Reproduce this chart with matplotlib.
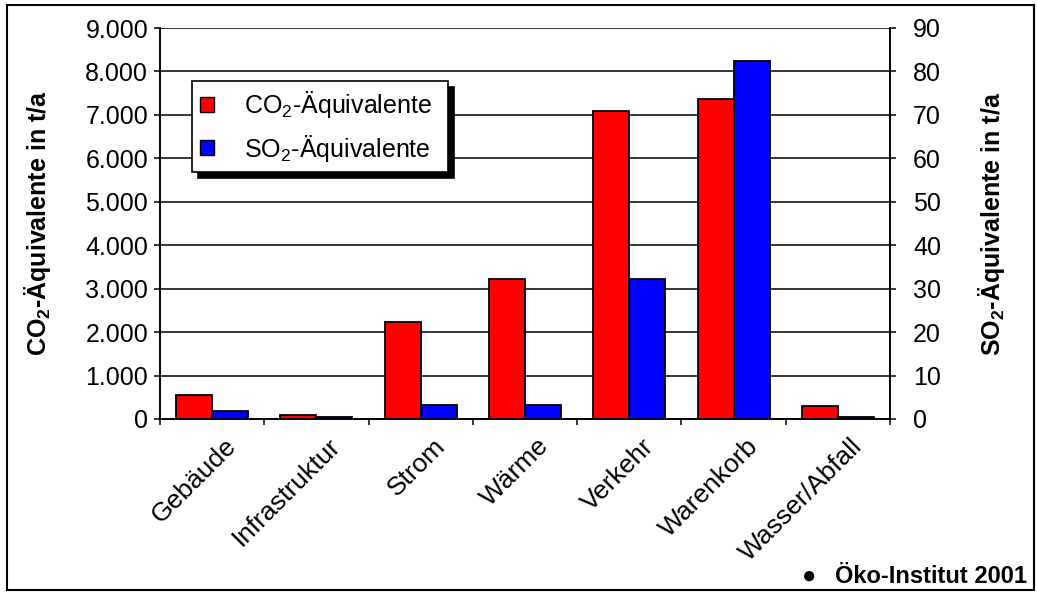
import numpy as np
import matplotlib
matplotlib.use("Agg")
import matplotlib.pyplot as plt
from matplotlib.ticker import FuncFormatter, MultipleLocator
from matplotlib.patches import Rectangle, Patch
from matplotlib.transforms import ScaledTranslation

plt.rcParams["font.family"] = ["Liberation Sans", "DejaVu Sans"]
plt.rcParams["mathtext.fontset"] = "custom"
plt.rcParams["mathtext.rm"] = "Liberation Sans"
plt.rcParams["mathtext.bf"] = "Liberation Sans:bold"

categories = ["Gebäude", "Infrastruktur", "Strom", "Wärme", "Verkehr", "Warenkorb", "Wasser/Abfall"]
co2 = [560, 90, 2240, 3230, 7100, 7360, 310]      # t/a, left axis
so2 = [1.8, 0.5, 3.2, 3.2, 32.3, 82.3, 0.5]       # t/a, right axis

FS = 18

fig = plt.figure(figsize=(10.37, 5.92), dpi=100)
ax = fig.add_axes([160/1037, 1-419/592, 730/1037, 391/592])
ax2 = ax.twinx()

x = np.arange(len(categories))
w = 0.345
ax.bar(x - w/2, co2, w, color="#ff0000", edgecolor="black", linewidth=1.3, zorder=3)
ax2.bar(x + w/2, so2, w, color="#0000ff", edgecolor="black", linewidth=1.3, zorder=3)

ax.set_xlim(-0.5, len(categories) - 0.5)
ax.set_ylim(0, 9000)
ax2.set_ylim(0, 90)
ax.yaxis.set_major_locator(MultipleLocator(1000))
ax2.yaxis.set_major_locator(MultipleLocator(10))
ax.yaxis.set_major_formatter(FuncFormatter(lambda v, p: f"{int(v):,}".replace(",", ".")))

ax.set_axisbelow(True)
ax.grid(axis="y", color="black", linewidth=1.1)

for a in (ax, ax2):
    a.spines["top"].set_visible(False)
    for s in a.spines.values():
        s.set_linewidth(1.2)

ax.tick_params(axis="y", direction="out", length=4.5, width=1.1, labelsize=FS, pad=4)
ax2.tick_params(axis="y", direction="out", length=4.5, width=1.1, labelsize=FS, pad=12)

ax.set_xticks(x)
ax.set_xticks(np.arange(-0.5, len(categories)), minor=True)
ax.tick_params(axis="x", which="major", length=0, labelsize=19)
ax.tick_params(axis="x", which="minor", direction="out", length=4.5, width=1.1)
ax.set_xticklabels(categories, rotation=45, ha="right", va="top", rotation_mode="anchor")
off = ScaledTranslation(12/100, -10/100, fig.dpi_scale_trans)
for lbl in ax.get_xticklabels():
    lbl.set_transform(lbl.get_transform() + off)

ax.set_ylabel("CO$_\\mathbf{2}$-Äquivalente in t/a", fontsize=FS, fontweight="bold")
ax.yaxis.set_label_coords(-0.146, 0.5)
ax2.set_ylabel("SO$_\\mathbf{2}$-Äquivalente in t/a", fontsize=FS, fontweight="bold", rotation=90)
ax2.yaxis.set_label_coords(1.118, 0.5)

handles = [Patch(facecolor="#ff0000", edgecolor="black", linewidth=1),
           Patch(facecolor="#0000ff", edgecolor="black", linewidth=1)]
labels = ["CO$_2$-Äquivalente  ", "SO$_2$-Äquivalente  "]
ax2.legend(handles, labels, loc="upper left", bbox_to_anchor=(0.044, 0.864),
           borderaxespad=0, fontsize=FS, frameon=True, fancybox=False,
           edgecolor="black", framealpha=1, handlelength=0.56, handleheight=0.56,
           handletextpad=1.2, labelspacing=0.5, borderpad=0.32,
           shadow={"ox": 4.3, "oy": -4.3, "color": "black", "alpha": 1})
ax2.get_legend().get_frame().set_linewidth(1.2)

fig.text(1027/1037, 1-583/592, "Öko-Institut 2001", ha="right", va="baseline",
         fontsize=17, fontweight="bold")
fig.text(809/1037, 1-583/592, "\u25cf", ha="center", va="baseline", fontsize=17)

fig.patches.append(Rectangle((7/1037, 1-590/592), 1027/1037, 585/592, transform=fig.transFigure,
                             fill=False, edgecolor="black", linewidth=1.5))

fig.savefig("out.png", dpi=100)
